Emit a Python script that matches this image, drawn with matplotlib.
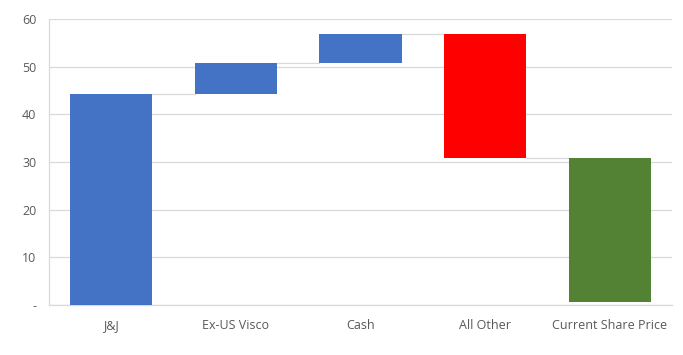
import numpy as np
import matplotlib.pyplot as plt

categories = ["J&J", "Ex-US Visco", "Cash", "All Other", "Current Share Price"]
bottoms = [0.0, 44.3, 50.8, 30.8, 0.7]
heights = [44.3, 6.5, 6.0, 26.0, 30.1]
colors = ["#4472C4", "#4472C4", "#4472C4", "#FF0000", "#548235"]
# level of the connector drawn after each bar
connector_levels = [44.3, 50.8, 56.8, 30.8]

y_ticks = [0, 10, 20, 30, 40, 50, 60]
y_tick_labels = ["-", "10", "20", "30", "40", "50", "60"]

plt.rcParams['font.family'] = ['Open Sans', 'DejaVu Sans']

fig = plt.figure(figsize=(6.83, 3.55), dpi=100, facecolor='white')
ax = fig.add_axes([0.0717, 0.1408, 0.9123, 0.8052])

x = np.arange(len(categories))
width = 0.66
ax.bar(x, heights, bottom=bottoms, width=width, color=colors, zorder=3)

for i, level in enumerate(connector_levels):
    ax.plot([x[i] + width / 2, x[i + 1] - width / 2], [level, level],
            color='#d9d9d9', lw=0.9, zorder=2)

ax.set_xlim(-0.5, len(categories) - 0.5)
ax.set_ylim(0, 60)
ax.set_yticks(y_ticks)
ax.set_yticklabels(y_tick_labels)
ax.set_xticks(x)
ax.set_xticklabels(categories)

ax.yaxis.grid(True, color='#d9d9d9', lw=0.9, zorder=0)
ax.set_axisbelow(True)
for side in ['top', 'right']:
    ax.spines[side].set_visible(False)
for side in ['left', 'bottom']:
    ax.spines[side].set_color('#d9d9d9')
    ax.spines[side].set_linewidth(0.9)

ax.tick_params(axis='both', length=0, labelsize=9, labelcolor='#595959')
ax.tick_params(axis='y', pad=9)
ax.tick_params(axis='x', pad=10)

fig.savefig('out.png', dpi=100)
